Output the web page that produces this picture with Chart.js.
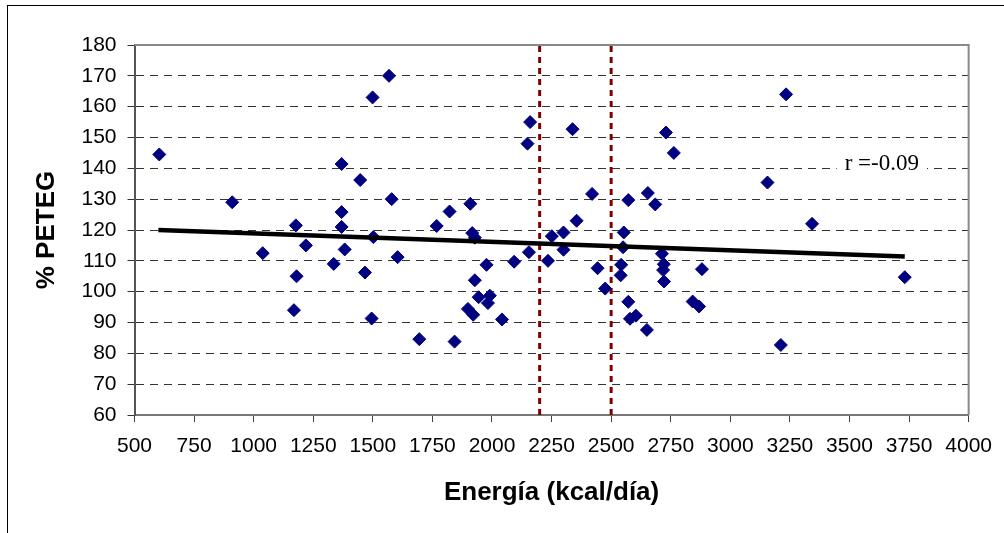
<!DOCTYPE html>
<html>
<head>
<meta charset="utf-8">
<script src="https://cdn.jsdelivr.net/npm/chart.js@4/dist/chart.umd.min.js"></script>
<style>
  html, body { margin: 0; padding: 0; background: #fff; }
  #wrap { position: relative; width: 1004px; height: 533px; }
  #frame { position: absolute; left: 7px; top: 5px; right: 0; bottom: 0; border-left: 1px solid #000; border-top: 1px solid #000; }
  canvas { position: absolute; left: 0; top: 0; }
</style>
</head>
<body>
<div id="wrap">
  <div id="frame"></div>
  <canvas id="chart" width="1004" height="533"></canvas>
</div>
<script>
const energy = [604, 910, 1177, 1369, 1447, 1369, 1369, 1038, 1219, 1382, 1336, 1180, 1169, 1568, 1499, 2160, 2149, 2338, 1579, 1909,
  1822, 1768, 2355, 2420, 1502, 1917, 1928, 1604, 1467, 1495, 1695, 1843, 1977, 1928, 1944, 1991, 1983, 1899, 1921, 2042,
  2093, 2155, 2235, 2251, 2300, 2300, 3234, 2730, 2763, 3156, 2572, 2654, 2685, 3343, 2553, 2550, 2443, 2475, 2542, 2540,
  2572, 2579, 2604, 2650, 2713, 2721, 2718, 2722, 2881, 2842, 2869, 3212, 3732];
const peteg = [144.5, 129, 121.5, 141.4, 136.2, 125.8, 121, 112.5, 115, 113.7, 109, 105, 94, 170, 163, 155, 148, 152.7, 130, 128.5,
  126, 121.3, 123, 131.7, 117.7, 119, 117.5, 111.2, 106.2, 91.3, 84.6, 83.8, 108.7, 103.7, 98.2, 98.7, 96.3, 94.4, 92.5, 91,
  109.7, 112.8, 110, 118, 119.2, 113.6, 164, 151.6, 145, 135.4, 129.7, 132, 128.3, 122, 119.2, 114.4, 107.6, 101, 108.7, 105.3,
  96.7, 91.2, 92.2, 87.6, 112.3, 108.9, 107, 103.3, 107.3, 96.8, 95.2, 82.7, 104.7];

const trendX = [600, 3732];
const trendY = [120.0, 111.4];

const limits = [2200, 2500];

const xMin = 500, xMax = 4000, xStep = 250;
const yMin = 60, yMax = 180, yStep = 10;

const rLabel = 'r =-0.09';
const rAt = [3480, 141.5];

const sans = "'Liberation Sans', Arial, sans-serif";

const points = energy.map((e, i) => ({ x: e, y: peteg[i] }));
const trend = trendX.map((t, i) => ({ x: t, y: trendY[i] }));

const limitSets = limits.map(v => ({
  data: [{ x: v, y: yMin }, { x: v, y: yMax }],
  showLine: true,
  borderColor: '#800000',
  borderWidth: 3,
  borderDash: [6, 5],
  pointRadius: 0,
  order: 2
}));

// gray frame on top and right of the plot area, plus the r label
const plotFrame = {
  id: 'plotFrame',
  afterDatasetsDraw(chart) {
    const { ctx, chartArea: a, scales } = chart;
    ctx.save();
    ctx.strokeStyle = '#888';
    ctx.lineWidth = 2;
    ctx.beginPath();
    ctx.moveTo(a.left, a.top);
    ctx.lineTo(a.right, a.top);
    ctx.lineTo(a.right, a.bottom);
    ctx.stroke();

    const tx = scales.x.getPixelForValue(rAt[0]);
    const ty = scales.y.getPixelForValue(rAt[1]);
    ctx.font = "23px 'Liberation Serif', 'Times New Roman', serif";
    const w = ctx.measureText(rLabel).width;
    ctx.fillStyle = '#fff';
    ctx.fillRect(tx - 8, ty - 14, w + 16, 28);
    ctx.fillStyle = '#000';
    ctx.textBaseline = 'middle';
    ctx.fillText(rLabel, tx, ty);
    ctx.restore();
  }
};

new Chart(document.getElementById('chart'), {
  type: 'scatter',
  data: {
    datasets: [
      {
        data: trend,
        showLine: true,
        borderColor: '#000',
        borderWidth: 4.5,
        pointRadius: 0,
        order: 0
      },
      {
        data: points,
        pointStyle: 'rectRot',
        pointRadius: 6.5,
        backgroundColor: '#000080',
        borderColor: '#000080',
        borderWidth: 1,
        order: 1
      },
      ...limitSets
    ]
  },
  options: {
    responsive: false,
    animation: false,
    layout: { padding: { top: 45, right: 35, left: 0, bottom: 0 } },
    plugins: { legend: { display: false }, tooltip: { enabled: false } },
    scales: {
      x: {
        type: 'linear',
        min: xMin,
        max: xMax,
        afterFit(scale) { scale.height = 118; },
        ticks: {
          stepSize: xStep, color: '#000', padding: 12, maxRotation: 0,
          font: { family: sans, size: 21 },
          callback: v => String(v)
        },
        grid: { drawOnChartArea: false, drawTicks: true, tickLength: 7, tickColor: '#444', tickWidth: 1 },
        border: { color: '#777', width: 2 },
        title: {
          display: true,
          text: 'Energía (kcal/día)',
          color: '#000',
          font: { family: sans, size: 26, weight: 'bold' },
          padding: { top: 0, bottom: 25 }
        }
      },
      y: {
        min: yMin,
        max: yMax,
        afterFit(scale) { scale.width = 134.5; },
        ticks: { stepSize: yStep, color: '#000', padding: 11, font: { family: sans, size: 21 }, callback: v => String(v) },
        grid: { color: '#333', lineWidth: 1, tickLength: 7, tickColor: '#333', tickWidth: 1, tickBorderDash: [] },
        border: { color: '#555', width: 2, dash: [8, 6] },
        title: {
          display: true,
          text: '% PETEG',
          color: '#000',
          font: { family: sans, size: 26, weight: 'bold' },
          padding: { top: 31, bottom: 0 }
        }
      }
    }
  },
  plugins: [plotFrame]
});
</script>
</body>
</html>
